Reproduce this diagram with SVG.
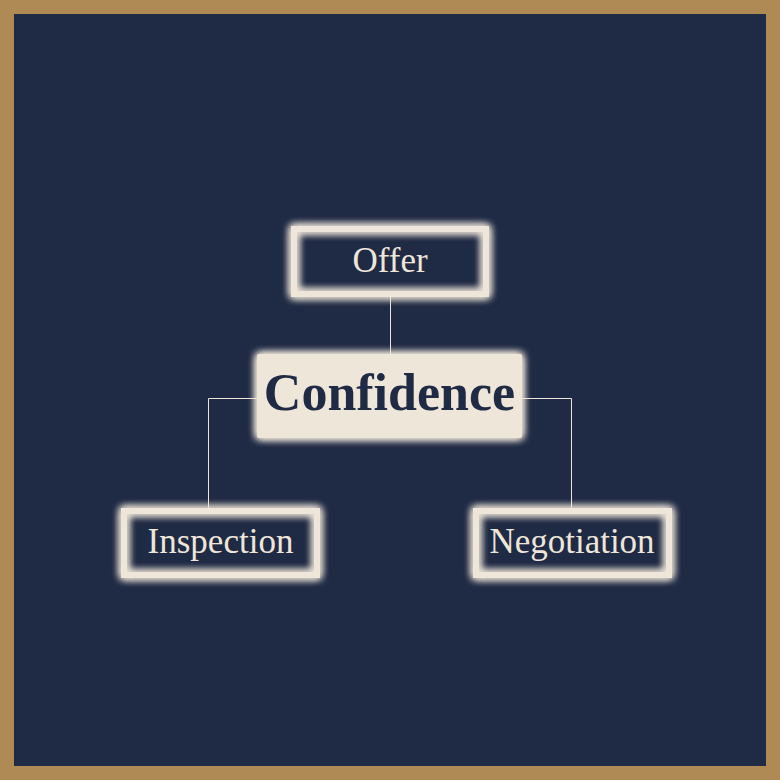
<svg xmlns="http://www.w3.org/2000/svg" width="780" height="780" viewBox="0 0 780 780">
  <defs>
    <filter id="glow" x="-20%" y="-30%" width="140%" height="160%">
      <feGaussianBlur in="SourceGraphic" stdDeviation="4" result="b"/>
      <feMerge>
        <feMergeNode in="b"/>
        <feMergeNode in="b"/>
        <feMergeNode in="b"/>
        <feMergeNode in="SourceGraphic"/>
      </feMerge>
    </filter>
  </defs>
  <style>
    .frame { fill: #1F2A44; stroke: #B08A55; stroke-width: 14; }
    .box { fill: none; stroke: #EFE6DA; stroke-width: 6; filter: url(#glow); }
    .core { fill: #EFE6DA; filter: url(#glow); }
    .lbl { font-family: "Liberation Serif", "Times New Roman", serif; font-size: 35px; fill: #EFE6DA; text-anchor: middle; }
    .corelbl { font-family: "Liberation Serif", "Times New Roman", serif; font-size: 52px; font-weight: bold; fill: #1F2A44; text-anchor: middle; }
    .conn { fill: none; stroke: #EFE6DA; stroke-width: 1; }
  </style>
  <rect class="frame" x="7" y="7" width="766" height="766"/>
  <g id="connectors">
    <line class="conn" x1="390.5" y1="297" x2="390.5" y2="354"/>
    <polyline class="conn" points="257,398.5 208.5,398.5 208.5,508"/>
    <polyline class="conn" points="522,398.5 571.5,398.5 571.5,508"/>
  </g>
  <g id="offer">
    <rect class="box" x="294" y="229" width="192" height="65"/>
    <text class="lbl" x="390" y="272">Offer</text>
  </g>
  <g id="confidence">
    <rect class="core" x="257" y="354" width="265" height="84" rx="2"/>
    <text class="corelbl" x="389.5" y="410">Confidence</text>
  </g>
  <g id="inspection">
    <rect class="box" x="124" y="511" width="193" height="64"/>
    <text class="lbl" x="220.5" y="553">Inspection</text>
  </g>
  <g id="negotiation">
    <rect class="box" x="476" y="511" width="193" height="64"/>
    <text class="lbl" x="572" y="553">Negotiation</text>
  </g>
</svg>
